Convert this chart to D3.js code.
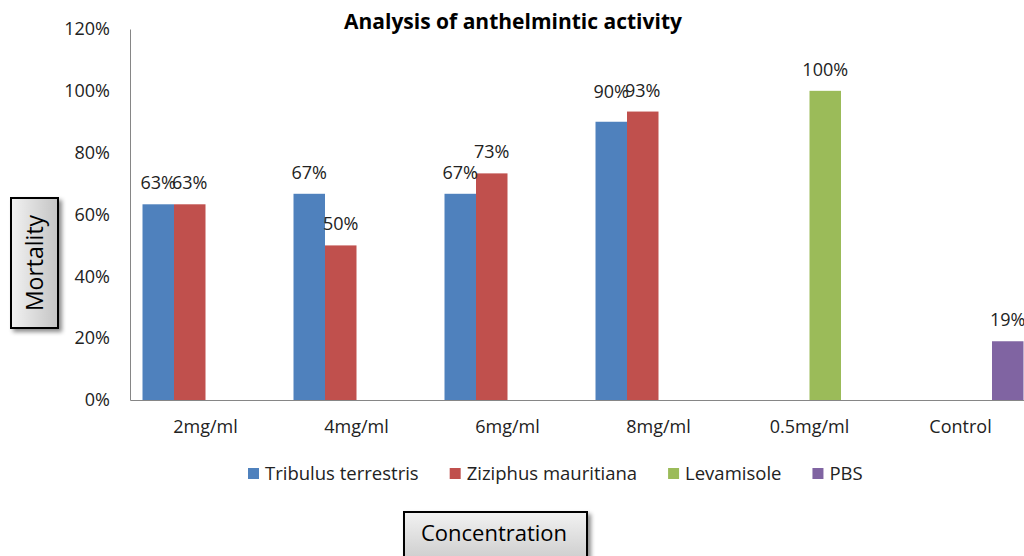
<!DOCTYPE html>
<html><head><meta charset="utf-8">
<script src="https://cdn.jsdelivr.net/npm/d3@7/dist/d3.min.js"></script>
<style>html,body{margin:0;padding:0;background:#fff;overflow:hidden}svg{display:block}</style>
</head><body>
<script>
// ---- data ----
const categories = ["2mg/ml", "4mg/ml", "6mg/ml", "8mg/ml", "0.5mg/ml", "Control"];
const seriesNames = ["Tribulus terrestris", "Ziziphus mauritiana", "Levamisole", "PBS"];
const seriesColors = ["#4F81BD", "#C0504D", "#9BBB59", "#8064A2"];
const tribulus = [0.633, 0.667, 0.667, 0.90, null, null];
const ziziphus = [0.633, 0.50, 0.733, 0.933, null, null];
const levamisole = [null, null, null, null, 1.00, null];
const pbs = [null, null, null, null, null, 0.19];
const yTicks = [0, 0.2, 0.4, 0.6, 0.8, 1.0, 1.2];
const title = "Analysis of anthelmintic activity";
const yTitle = "Mortality";
const xTitle = "Concentration";

const seriesValues = [tribulus, ziziphus, levamisole, pbs];

const W = 1024, H = 556;
const FONT = "'Open Sans', 'DejaVu Sans', sans-serif";
const svg = d3.select("body").append("svg").attr("width", W).attr("height", H)
  .style("font-family", FONT);

const defs = svg.append("defs");
const f = defs.append("filter").attr("id", "shadow").attr("x", "-20%").attr("y", "-20%").attr("width", "150%").attr("height", "150%");
f.append("feDropShadow").attr("dx", 3).attr("dy", 3).attr("stdDeviation", 2).attr("flood-color", "#000").attr("flood-opacity", 0.45);
const gV = defs.append("linearGradient").attr("id", "gradV").attr("x1", 0).attr("y1", 0).attr("x2", 0).attr("y2", 1);
gV.append("stop").attr("offset", "0%").attr("stop-color", "#f2f2f2");
gV.append("stop").attr("offset", "100%").attr("stop-color", "#c4c4c4");
const gH = defs.append("linearGradient").attr("id", "gradH").attr("x1", 0).attr("y1", 0).attr("x2", 1).attr("y2", 0);
gH.append("stop").attr("offset", "0%").attr("stop-color", "#f2f2f2");
gH.append("stop").attr("offset", "100%").attr("stop-color", "#c4c4c4");

const x0 = d3.scaleBand().domain(categories).range([130, 1036]).padding(0);
const x1 = d3.scaleBand().domain(seriesNames).range([0, x0.bandwidth()]).paddingInner(0).paddingOuter(0.397);
const y = d3.scaleLinear().domain([0, 1.2]).range([400, 29]);

// title
svg.append("text").attr("x", 513).attr("y", 29).attr("text-anchor", "middle")
  .attr("font-weight", "bold").attr("font-size", 21).attr("fill", "#000").text(title);

// y axis
const yAxis = d3.axisLeft(y).tickValues(yTicks).tickFormat(d3.format(".0%")).tickSize(0).tickPadding(20);
const gy = svg.append("g").attr("transform", "translate(130,0)").call(yAxis);
gy.select(".domain").attr("stroke", "#868686");
gy.selectAll("text").attr("font-size", 18).attr("fill", "#222").style("font-family", FONT);

// x axis
const xAxis = d3.axisBottom(x0).tickSize(0).tickPadding(20);
const gx = svg.append("g").attr("transform", "translate(0,400)").call(xAxis);
gx.select(".domain").attr("stroke", "#868686");
gx.selectAll("text").attr("font-size", 18).attr("fill", "#222").style("font-family", FONT);

// bars
const flat = [];
seriesValues.forEach((vals, si) => vals.forEach((v, ci) => {
  if (v != null) flat.push({ cat: categories[ci], series: seriesNames[si], color: seriesColors[si], v });
}));
svg.append("g").selectAll("rect").data(flat).join("rect")
  .attr("x", d => x0(d.cat) + x1(d.series))
  .attr("width", x1.bandwidth())
  .attr("y", d => y(d.v))
  .attr("height", d => y(0) - y(d.v))
  .attr("fill", d => d.color);

// data labels (the 8mg/ml Tribulus label sits higher in the original)
svg.append("g").selectAll("text").data(flat).join("text")
  .attr("x", d => x0(d.cat) + x1(d.series) + x1.bandwidth() / 2)
  .attr("y", d => y(d.v) - 15 - (d.cat === "8mg/ml" && d.series === "Tribulus terrestris" ? 9 : 0))
  .attr("text-anchor", "middle").attr("font-size", 18).attr("fill", "#222")
  .text(d => d3.format(".0%")(d.v));

// legend
const lg = svg.append("g");
const items = lg.selectAll("g").data(seriesNames).join("g");
items.append("rect").attr("width", 11).attr("height", 11).attr("y", 468).attr("fill", (d, i) => seriesColors[i]);
items.append("text").attr("x", 17).attr("y", 480).attr("font-size", 18.5).attr("fill", "#222").text(d => d);
let cx = 248;
items.each(function () {
  const g = d3.select(this);
  g.attr("transform", `translate(${cx},0)`);
  cx += 17 + g.select("text").node().getComputedTextLength() + 31;
});

// axis title boxes
const yb = svg.append("g");
yb.append("rect").attr("x", 11).attr("y", 198).attr("width", 47).attr("height", 130)
  .attr("fill", "url(#gradH)").attr("stroke", "#000").attr("stroke-width", 2).attr("filter", "url(#shadow)");
yb.append("text").attr("transform", "translate(43,263) rotate(-90)").attr("text-anchor", "middle")
  .attr("font-size", 23).attr("fill", "#000").text(yTitle);

const xb = svg.append("g");
xb.append("rect").attr("x", 404).attr("y", 512).attr("width", 183).attr("height", 60)
  .attr("fill", "url(#gradV)").attr("stroke", "#000").attr("stroke-width", 2).attr("filter", "url(#shadow)");
xb.append("text").attr("x", 494).attr("y", 541).attr("text-anchor", "middle")
  .attr("font-size", 22).attr("fill", "#000").text(xTitle);
</script>
</body></html>
